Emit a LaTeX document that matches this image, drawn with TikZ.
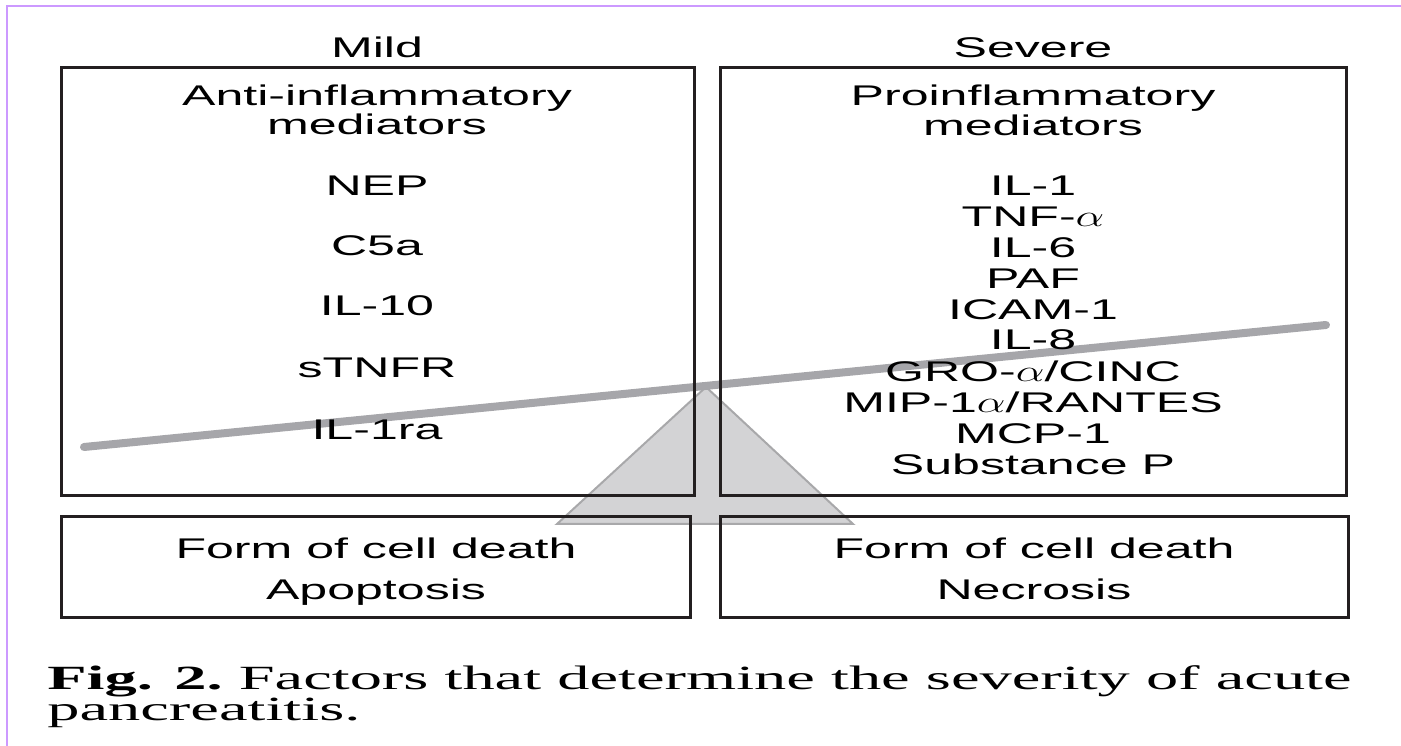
\documentclass[tikz,border=0pt]{standalone}
\usepackage{fontspec}
\usepackage{graphicx}
\newfontfamily\boxfont{Liberation Sans}[FakeStretch=1.76]
\newfontfamily\capfont{Liberation Serif}[FakeStretch=1.9]
\newcommand{\alf}{\scalebox{1.5}[1]{$\alpha$}}
\definecolor{framepurple}{RGB}{204,153,255}
\definecolor{beamgray}{RGB}{166,166,170}
\definecolor{pivotfill}{RGB}{211,211,213}
\definecolor{pivotedge}{RGB}{168,168,170}
\definecolor{boxline}{RGB}{35,31,32}
\begin{document}
\begin{tikzpicture}[x=0.02cm,y=-0.02cm,
    txt/.style={font=\boxfont\fontsize{16.2}{18}\selectfont, anchor=base, inner sep=0pt},
    captxt/.style={font=\capfont\fontsize{19.3}{22}\selectfont, anchor=base west, inner sep=0pt},
    box/.style={draw=boxline, line width=0.06cm}]
        \useasboundingbox (0,0) rectangle (1401,746);
        \draw[framepurple, line width=0.04cm] (7,746) -- (7,6) -- (1401,6);

        \filldraw[fill=pivotfill, draw=pivotedge, line width=0.04cm] (706,387) -- (853,524) -- (557,524) -- cycle;
        \draw[beamgray, line width=0.16cm, line cap=round] (84,447) -- (1326,325);

        \draw[box] (61,68) rectangle (694,496);
        \draw[box] (720,68) rectangle (1346,496);
        \draw[box] (61,517) rectangle (690,618);
        \draw[box] (720,517) rectangle (1348,618);

        \node[txt] (mild) at (377,58) {Mild};
        \node[txt] (severe) at (1033,58) {Severe};

        \node[txt] (anti) at (377,106) {Anti-inflammatory};
        \node[txt] (antimed) at (377,135) {mediators};
        \node[txt] (nep) at (377,196) {NEP};
        \node[txt] (c5a) at (377,256) {C5a};
        \node[txt] (il10) at (377,316) {IL-10};
        \node[txt] (stnfr) at (377,378) {sTNFR};
        \node[txt] (il1ra) at (377,440) {IL-1ra};

        \node[txt] (pro) at (1033,106) {Proinflammatory};
        \node[txt] (promed) at (1033,136) {mediators};
        \node[txt] (il1) at (1033,196) {IL-1};
        \node[txt] (tnf) at (1033,227) {TNF-\alf};
        \node[txt] (il6) at (1033,258) {IL-6};
        \node[txt] (paf) at (1033,289) {PAF};
        \node[txt] (icam) at (1033,320) {ICAM-1};
        \node[txt] (il8) at (1033,350) {IL-8};
        \node[txt] (gro) at (1033,382) {GRO-\alf/CINC};
        \node[txt] (mip) at (1033,413) {MIP-1\alf/RANTES};
        \node[txt] (mcp) at (1033,444) {MCP-1};
        \node[txt] (subp) at (1033,475) {Substance P};

        \node[txt] (formmild) at (376,559) {Form of cell death};
        \node[txt] (apop) at (376,600) {Apoptosis};
        \node[txt] (formsev) at (1034,559) {Form of cell death};
        \node[txt] (necr) at (1034,600) {Necrosis};

        \node[captxt] (cap1) at (47,690) {\bfseries Fig. 2.\mdseries\ Factors that determine the severity of acute};
        \node[captxt] (cap2) at (47,721) {pancreatitis.};
    \end{tikzpicture}
\end{document}
